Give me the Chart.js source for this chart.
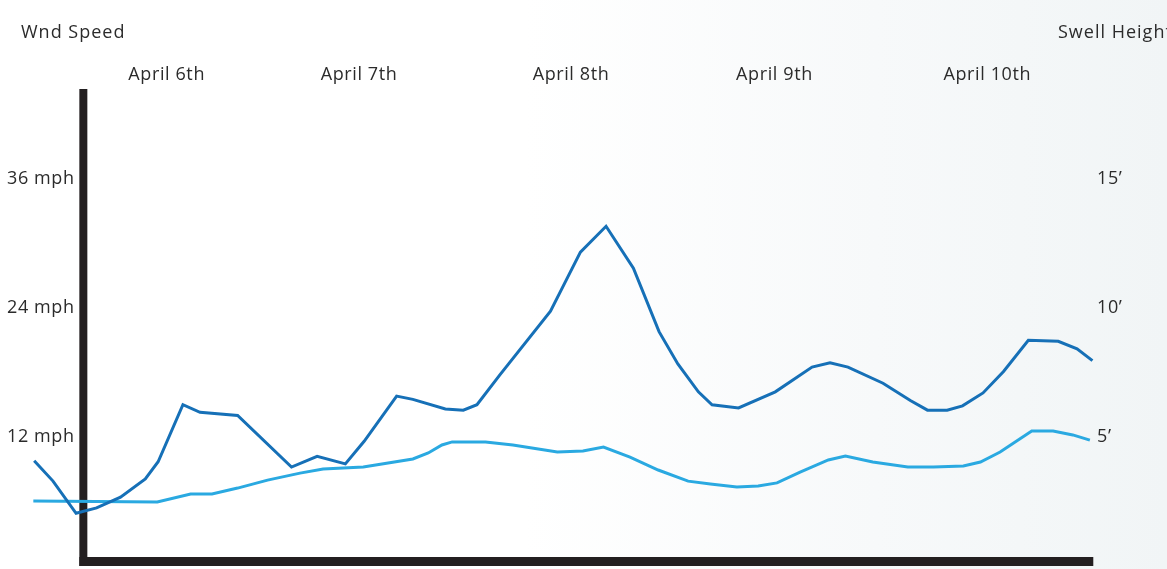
<!DOCTYPE html>
<html><head><meta charset="utf-8">
<script src="https://cdn.jsdelivr.net/npm/chart.js@4"></script>
<style>
html,body{margin:0;padding:0;width:1167px;height:569px;overflow:hidden;background:#fff;}
#wrap{position:relative;width:1167px;height:569px;background:linear-gradient(90deg,#ffffff 0%,#ffffff 45%,#f7f9fa 75%,#f1f5f6 100%);}
canvas{display:block;}
</style></head><body><div id="wrap"><canvas id="c" width="1167" height="569"></canvas></div>
<script>
// ---- data (time in hours) ----
const dayLabels = ["April 6th","April 7th","April 8th","April 9th","April 10th"];
const dayTickHours = [15.6, 38.1, 62.9, 86.7, 111.6];

const windHours = [0.1,2.3,5.0,7.4,10.2,13.1,14.6,17.5,19.5,23.9,30.2,33.2,36.5,38.7,42.5,44.4,48.2,50.3,51.9,54.6,60.5,64.0,67.0,70.2,73.2,75.4,77.8,79.4,82.5,86.8,91.1,93.2,95.3,99.4,102.6,104.6,106.9,108.7,111.1,113.5,116.4,119.9,122.1,123.9];
const windMph   = [9.8,7.9,4.9,5.4,6.4,8.1,9.7,15.0,14.3,14.0,9.2,10.2,9.5,11.6,15.8,15.5,14.6,14.5,15.0,17.8,23.7,29.2,31.6,27.7,21.8,18.8,16.2,15.0,14.7,16.2,18.5,18.9,18.5,17.0,15.4,14.5,14.5,14.9,16.1,18.1,21.0,20.9,20.2,19.1];

const swellHours = [0,14.5,18.4,20.9,23.9,27.4,31.2,33.9,38.6,44.4,46.2,47.8,49.0,52.9,56.1,61.3,64.3,66.7,69.8,73.1,76.6,79.2,82.3,84.8,87.0,89.7,93.0,95.0,98.2,102.3,105.3,108.8,110.8,113.1,116.8,119.3,121.6,123.6];
const swellFeet  = [2.52,2.48,2.79,2.79,3.02,3.33,3.60,3.76,3.84,4.15,4.38,4.69,4.81,4.81,4.69,4.42,4.46,4.61,4.22,3.72,3.29,3.18,3.06,3.10,3.22,3.64,4.11,4.26,4.03,3.84,3.84,3.88,4.03,4.42,5.23,5.23,5.08,4.88];

const mphTicks  = [12, 24, 36];
const feetTicks = [5, 10, 15];

const leftTitle  = "Wnd Speed";
const rightTitle = "Swell Height";

// ---- styles ----
const FONT = "'Open Sans', sans-serif";
const TEXT = "#2b2b2b";
const INK = "#231f20";

const decor = {
  id: 'decor',
  beforeDraw(chart) {
    chart.ctx.letterSpacing = '0.6px';
  },
  beforeDatasetsDraw(chart) {
    const {ctx, chartArea, scales} = chart;
    const xAxis = scales.x.getPixelForValue(5.85);
    ctx.save();
    ctx.fillStyle = INK;
    ctx.fillRect(xAxis - 4, 89, 8, chartArea.bottom - 89);
    ctx.fillRect(xAxis - 4, chartArea.bottom - 9, scales.x.getPixelForValue(124.0) - xAxis + 4, 9);
    ctx.restore();
  },
  afterDraw(chart) {
    const {ctx} = chart;
    ctx.save();
    ctx.fillStyle = TEXT;
    ctx.font = "18px " + FONT;
    ctx.letterSpacing = '1.0px';
    ctx.textBaseline = 'middle';
    ctx.textAlign = 'left';
    ctx.fillText(leftTitle, 21, 33);
    ctx.fillText(rightTitle, 1058, 33);
    ctx.restore();
  }
};

const noEndPadding = s => { s.paddingTop = 0; s.paddingBottom = 0; };

new Chart(document.getElementById('c'), {
  type: 'line',
  data: {
    datasets: [
      {
        label: 'Wind speed',
        data: windHours.map((h, i) => ({x: h, y: windMph[i]})),
        yAxisID: 'y',
        borderColor: '#1670b7',
        borderWidth: 3,
        pointRadius: 0,
        tension: 0,
        fill: false,
        clip: false
      },
      {
        label: 'Swell height',
        data: swellHours.map((h, i) => ({x: h, y: swellFeet[i]})),
        yAxisID: 'y2',
        borderColor: '#2aa9e1',
        borderWidth: 3,
        pointRadius: 0,
        tension: 0,
        fill: false,
        clip: false
      }
    ]
  },
  options: {
    responsive: false,
    devicePixelRatio: 1,
    animation: false,
    layout: {padding: {top: 0, left: 0, right: 0, bottom: 3}},
    plugins: {legend: {display: false}, title: {display: false}, tooltip: {enabled: false}},
    scales: {
      x: {
        type: 'linear', position: 'top', min: -3.9, max: 124.2,
        grid: {display: false, drawTicks: false}, border: {display: false},
        afterBuildTicks: s => { s.ticks = dayTickHours.map(v => ({value: v})); },
        afterFit: s => { s.height = 136; s.paddingLeft = 0; s.paddingRight = 0; },
        ticks: {autoSkip: false, maxRotation: 0, padding: 50, color: TEXT, font: {family: FONT, size: 18},
          callback: (v, i) => dayLabels[i]}
      },
      y: {
        type: 'linear', position: 'left', min: 0, max: 40,
        grid: {display: false, drawTicks: false}, border: {display: false},
        afterBuildTicks: s => { s.ticks = mphTicks.map(v => ({value: v})); },
        afterFit: s => { s.width = 0; noEndPadding(s); },
        ticks: {mirror: true, padding: 7, color: TEXT, font: {family: FONT, size: 18},
          callback: v => v + ' mph'}
      },
      y2: {
        type: 'linear', position: 'right', min: 0, max: 40 / 2.4,
        grid: {display: false, drawTicks: false}, border: {display: false},
        afterBuildTicks: s => { s.ticks = feetTicks.map(v => ({value: v})); },
        afterFit: s => { s.width = 72; noEndPadding(s); },
        ticks: {padding: 2, color: TEXT, font: {family: FONT, size: 18},
          callback: v => v + '\u2019'}
      }
    }
  },
  plugins: [decor]
});
</script></body></html>
